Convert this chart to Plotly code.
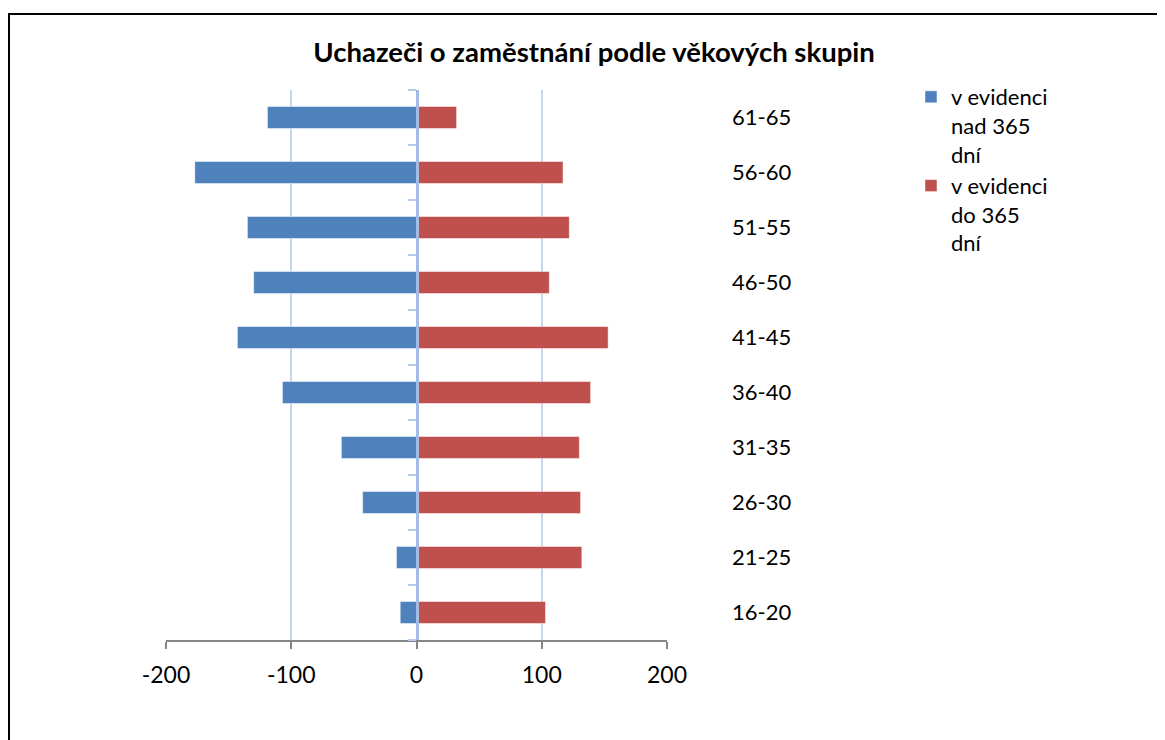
import plotly.graph_objects as go

categories = ["16-20", "21-25", "26-30", "31-35", "36-40", "41-45", "46-50", "51-55", "56-60", "61-65"]
over_365 = [-13, -16, -43, -60, -107, -143, -130, -135, -177, -119]
under_365 = [103, 132, 131, 130, 139, 153, 106, 122, 117, 32]
x_ticks = [-200, -100, 0, 100, 200]
name_over = "v evidenci<br>nad 365<br>dní"
name_under = "v evidenci<br>do 365<br>dní"
title_text = "Uchazeči o zaměstnání podle věkových skupin"

FONT = "Lato"
OFF = 8  # page body margin
W, H = 1165 - OFF, 740 - OFF
L, T = 166 - OFF, 90 - OFF
PR, PB = 667 - OFF, 640 - OFF
R, B = W - PR, H - PB
pw, ph = PR - L, PB - T

def px_x(p):
    return (p - OFF - L) / pw

def px_y(p):
    return (PB - (p - OFF)) / ph

bx0, bx1 = px_x(9), px_x(1165 + 60)
by0, by1 = px_y(740 + 60), px_y(14)
border_path = f"M {bx0},{by0} L {bx0},{by1} L {bx1},{by1}"

fig = go.Figure()
fig.add_trace(go.Bar(x=over_365, y=categories, orientation="h", name=name_over,
                     marker=dict(color="#4F81BD", line=dict(width=0.8, color="rgba(255,255,255,0.6)"))))
fig.add_trace(go.Bar(x=under_365, y=categories, orientation="h", name=name_under,
                     marker=dict(color="#C0504D", line=dict(width=0.8, color="rgba(255,255,255,0.6)"))))
# helper trace to carry the category labels on the right-hand axis
fig.add_trace(go.Scatter(x=[0] * len(categories), y=categories, yaxis="y2", mode="markers",
                         marker=dict(opacity=0, size=1), showlegend=False, hoverinfo="skip"))

fig.update_layout(
    width=W, height=H,
    margin=dict(l=L, r=R, t=T, b=B),
    paper_bgcolor="white", plot_bgcolor="white",
    barmode="relative", bargap=0.6,
    font=dict(family=FONT, color="#000000"),
    title=dict(text="<b>" + title_text + "</b>", font=dict(family=FONT, size=27.5, color="#000000"),
               xref="container", x=(594 - OFF) / W, xanchor="center",
               yref="container", y=1 - (52 - OFF) / H, yanchor="middle"),
    xaxis=dict(range=[-200, 200], tickmode="array", tickvals=x_ticks, ticktext=[str(v) for v in x_ticks],
               showgrid=True, gridcolor="#C6D6EF", gridwidth=2, zeroline=False,
               showline=True, linecolor="#868686", linewidth=1.5,
               ticks="outside", ticklen=7, tickcolor="#868686", tickwidth=1.5,
               tickfont=dict(family=FONT, size=23, color="#000000"), ticklabelstandoff=7),
    yaxis=dict(type="category", categoryorder="array", categoryarray=categories,
               range=[-0.5, len(categories) - 0.5],
               anchor="free", position=0.5, side="left",
               showline=True, linecolor="#A4BCE4", linewidth=3,
               ticks="outside", tickson="boundaries", ticklen=8, tickcolor="#B7CBEA", tickwidth=2,
               showticklabels=False, showgrid=False, zeroline=False),
    yaxis2=dict(type="category", categoryorder="array", categoryarray=categories,
                range=[-0.5, len(categories) - 0.5],
                overlaying="y", side="right", anchor="x",
                showline=False, ticks="", showgrid=False, zeroline=False,
                tickfont=dict(family=FONT, size=22, color="#000000"), ticklabelstandoff=64),
    legend=dict(x=px_x(911), y=px_y(76), xanchor="left", yanchor="top",
                font=dict(family=FONT, size=22, color="#000000"),
                traceorder="normal", valign="top", bgcolor="rgba(0,0,0,0)"),
    shapes=[dict(type="path", xref="paper", yref="paper", path=border_path,
                 line=dict(color="#000000", width=2), layer="above")],
    showlegend=True,
)

fig.write_html("out.html")
